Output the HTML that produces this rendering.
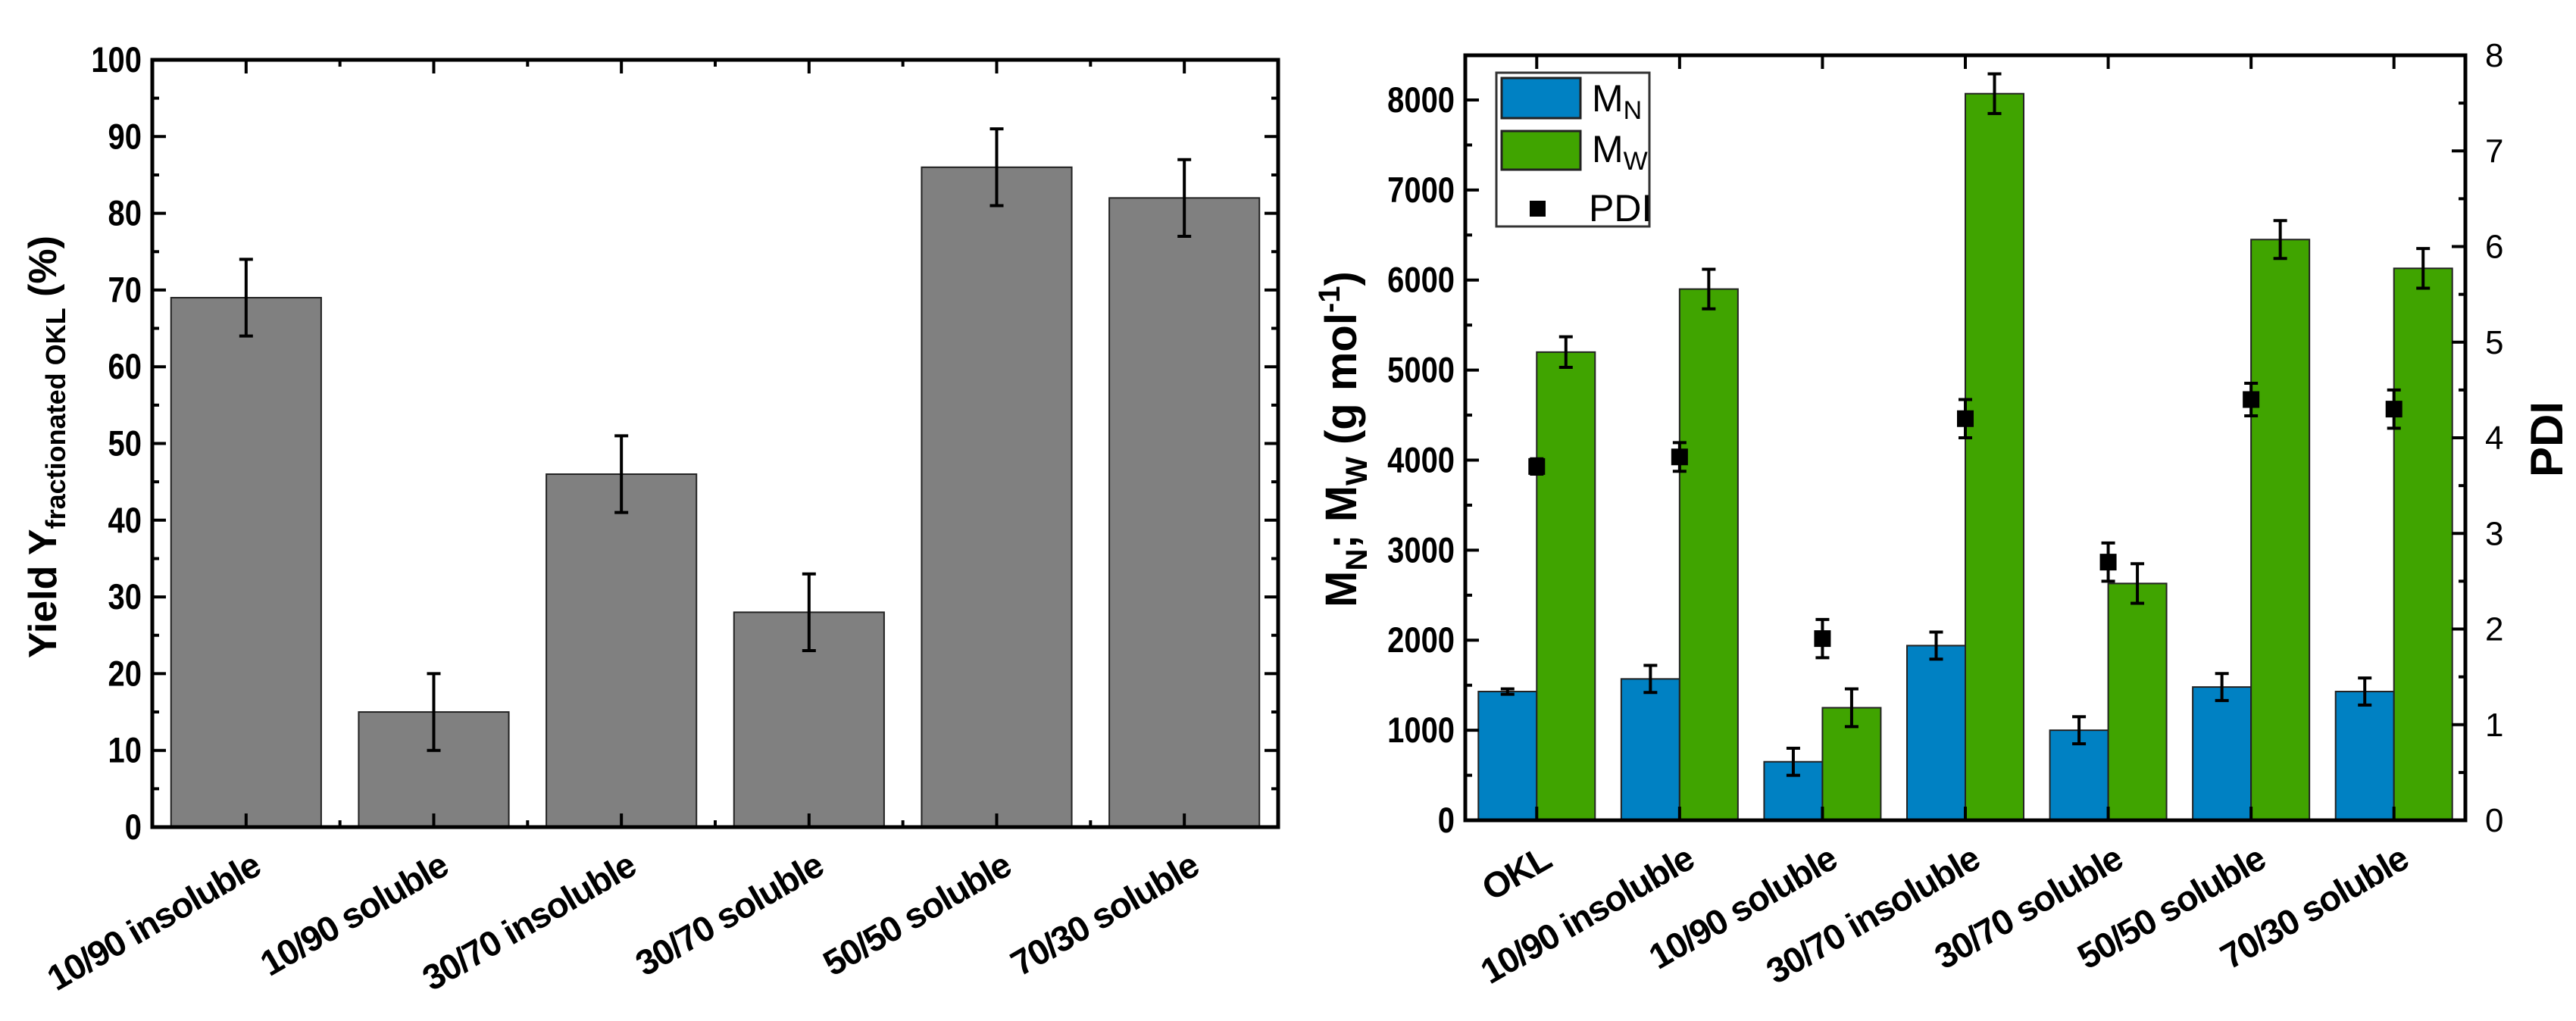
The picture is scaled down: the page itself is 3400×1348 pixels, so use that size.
<!DOCTYPE html>
<html><head><meta charset="utf-8"><style>
html,body{margin:0;padding:0;background:#fff;}
svg{display:block;font-family:"Liberation Sans",sans-serif;}
</style></head><body>
<svg id="s" width="3400" height="1348" viewBox="0 0 3400 1348" xmlns="http://www.w3.org/2000/svg">
<g id="left"></g>
<g id="right"></g>
</svg>
<script>
const yieldCats = ["10/90 insoluble","10/90 soluble","30/70 insoluble","30/70 soluble","50/50 soluble","70/30 soluble"];
const yieldVals = [69,15,46,28,86,82];
const yieldErr = [5,5,5,5,5,5];
const yieldTicks = [0,10,20,30,40,50,60,70,80,90,100];

const mwCats = ["OKL","10/90 insoluble","10/90 soluble","30/70 insoluble","30/70 soluble","50/50 soluble","70/30 soluble"];
const mnVals = [1430,1570,650,1940,1000,1480,1430];
const mnErr = [30,150,150,150,150,150,150];
const mwVals = [5200,5900,1250,8070,2630,6450,6130];
const mwErr = [170,220,210,220,220,210,220];
const pdiVals = [3.7,3.8,1.9,4.2,2.7,4.4,4.3];
const pdiErr = [0.08,0.15,0.2,0.2,0.2,0.17,0.2];
const mwTicks = [0,1000,2000,3000,4000,5000,6000,7000,8000];
const pdiTicks = [0,1,2,3,4,5,6,7,8];

const NS="http://www.w3.org/2000/svg";
function mk(parent,tag,attrs,text){const e=document.createElementNS(NS,tag);for(const k in attrs)e.setAttribute(k,attrs[k]);if(text!==undefined)e.textContent=text;parent.appendChild(e);return e;}

// LEFT
(function(){
const g=document.getElementById('left');
const L=201,R=1687,T=79,B=1092;
const y=v=>B-(v/100)*(B-T);
const step=(R-L)/yieldCats.length;
const x=i=>L+step*(i+0.5);
const bw=step*0.8;
yieldVals.forEach((v,i)=>{
 const r=mk(g,'rect',{x:x(i)-bw/2,y:y(v),width:bw,height:B-y(v),fill:'#808080',stroke:'#222','stroke-width':2});
 
 
 const e=mk(g,'path',{d:`M${x(i)} ${y(v+yieldErr[i])}V${y(v-yieldErr[i])}M${x(i)-9} ${y(v+yieldErr[i])}h18M${x(i)-9} ${y(v-yieldErr[i])}h18`,stroke:'#000','stroke-width':4,fill:'none'});
 
 
});
mk(g,'rect',{x:L,y:T,width:R-L,height:B-T,fill:'none',stroke:'#000','stroke-width':5});
yieldTicks.forEach(t=>{
 mk(g,'path',{d:`M${L} ${y(t)}h18M${R} ${y(t)}h-18`,stroke:'#000','stroke-width':4});
 if(t<100) mk(g,'path',{d:`M${L} ${y(t+5)}h9M${R} ${y(t+5)}h-9`,stroke:'#000','stroke-width':4});
 const l=mk(g,'text',{x:L-14,y:y(t)+16,'text-anchor':'end','font-size':47,'font-weight':'bold',transform:`translate(${L-14} 0) scale(0.85 1) translate(${-(L-14)} 0)`},t);
 
 
});
yieldCats.forEach((c,i)=>{
 mk(g,'path',{d:`M${x(i)} ${B}v-18M${x(i)} ${T}v18M${L+step*i} ${B}v-9M${L+step*i} ${T}v9`,stroke:'#000','stroke-width':4});
 const l=mk(g,'text',{x:x(i)+22,y:B+60,'text-anchor':'end','font-size':47,'font-weight':'bold','letter-spacing':-1.5,transform:`rotate(-30 ${x(i)+22} ${B+60})`},c);
 
 
});
const t=mk(g,'text',{x:0,y:0,'text-anchor':'middle','font-size':52,'font-weight':'bold',transform:'translate(74 590) rotate(-90)'});


t.innerHTML='Yield Y<tspan font-size="36" dy="12">fractionated OKL</tspan><tspan dy="-12">  (%)</tspan>';
})();

// RIGHT
(function(){
const g=document.getElementById('right');
const L=1934,R=3254,T=73,B=1083;
const y=v=>B-v*(B-132)/8000;
const y2=v=>B-v*(B-T)/8;
const step=(R-L)/mwCats.length;
const x=i=>L+step*(i+0.5);
const bw=77;
function err(cx,top,bot,name){const e=mk(g,'path',{d:`M${cx} ${top}V${bot}M${cx-9} ${top}h18M${cx-9} ${bot}h18`,stroke:'#000','stroke-width':4,fill:'none'});}
mwCats.forEach((c,i)=>{
 const cx=x(i);
 const a=mk(g,'rect',{x:cx-bw,y:y(mnVals[i]),width:bw,height:B-y(mnVals[i]),fill:'#0081C3',stroke:'#222','stroke-width':2});
 
 
 const b=mk(g,'rect',{x:cx,y:y(mwVals[i]),width:bw,height:B-y(mwVals[i]),fill:'#40A400',stroke:'#222','stroke-width':2});
 
 
 err(cx-bw/2,y(mnVals[i]+mnErr[i]),y(mnVals[i]-mnErr[i]),'mn-error-bar');
 err(cx+bw/2,y(mwVals[i]+mwErr[i]),y(mwVals[i]-mwErr[i]),'mw-error-bar');
 err(cx,y2(pdiVals[i]+pdiErr[i]),y2(pdiVals[i]-pdiErr[i]),'pdi-error-bar');
 const p=mk(g,'rect',{x:cx-11,y:y2(pdiVals[i])-11,width:22,height:22,fill:'#000'});
 
 
 mk(g,'path',{d:`M${cx} ${B}v-18M${cx} ${T}v18`,stroke:'#000','stroke-width':4});
 const l=mk(g,'text',{x:cx+22,y:B+60,'text-anchor':'end','font-size':47,'font-weight':'bold','letter-spacing':-1.5,transform:`rotate(-30 ${cx+22} ${B+60})`},c);
 
 
});
mk(g,'rect',{x:L,y:T,width:R-L,height:B-T,fill:'none',stroke:'#000','stroke-width':5});
mwTicks.forEach(t=>{
 mk(g,'path',{d:`M${L} ${y(t)}h18`,stroke:'#000','stroke-width':4});
 mk(g,'path',{d:`M${L} ${y(t+500)}h9`,stroke:'#000','stroke-width':4});
 const l=mk(g,'text',{x:L-14,y:y(t)+16,'text-anchor':'end','font-size':47,'font-weight':'bold',transform:`translate(${L-14} 0) scale(0.85 1) translate(${-(L-14)} 0)`},t);
 
 
});
pdiTicks.forEach(t=>{
 mk(g,'path',{d:`M${R} ${y2(t)}h-18`,stroke:'#000','stroke-width':4});
 if(t<8) mk(g,'path',{d:`M${R} ${y2(t+0.5)}h-9`,stroke:'#000','stroke-width':4});
 const l=mk(g,'text',{x:R+26,y:y2(t)+15,'font-size':44},t);
 
 
});
const t=mk(g,'text',{x:0,y:0,'text-anchor':'middle','font-size':58,'font-weight':'bold',transform:'translate(1790 580) rotate(-90)'});


t.innerHTML='M<tspan font-size="40" dy="14">N</tspan><tspan dy="-14">; M</tspan><tspan font-size="40" dy="14">W</tspan><tspan dy="-14"> (g mol</tspan><tspan font-size="40" dy="-22">-1</tspan><tspan dy="22">)</tspan>';
const t2=mk(g,'text',{x:0,y:0,'text-anchor':'middle','font-size':60,'font-weight':'bold',transform:'translate(3382 580) rotate(-90)'},'PDI');


const lg=mk(g,'g',{});


mk(lg,'rect',{x:1975,y:96,width:202,height:203,fill:'#fff',stroke:'#333','stroke-width':3});
mk(lg,'rect',{x:1982,y:103,width:104,height:53,fill:'#0081C3',stroke:'#222','stroke-width':3});
mk(lg,'rect',{x:1982,y:173,width:104,height:51,fill:'#40A400',stroke:'#222','stroke-width':3});
mk(lg,'rect',{x:2019,y:265,width:21,height:21,fill:'#000'});
const a=mk(lg,'text',{x:2101,y:147,'font-size':50});a.innerHTML='M<tspan font-size="34" dy="10">N</tspan>';


const b=mk(lg,'text',{x:2101,y:214,'font-size':50});b.innerHTML='M<tspan font-size="34" dy="10">W</tspan>';


const c=mk(lg,'text',{x:2097,y:292,'font-size':50},'PDI');


})();
</script>
</body></html>
